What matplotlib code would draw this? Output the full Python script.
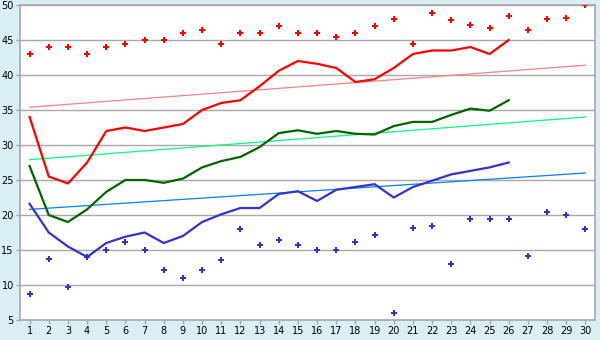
import numpy as np
import matplotlib.pyplot as plt

days = list(range(1, 31))

red_pts = [43, 44, 44, 43, 44, 44.5, 45, 45, 46, 46.5, 44.5, 46, 46, 47, 46,
           46, 45.5, 46, 47, 48, 44.5, 48.8, 47.8, 47.2, 46.7, 48.4, 46.5, 48, 48.1, 50]
blue_pts = [8.7, 13.7, 9.7, 14, 15, 16.1, 15, 12.2, 11, 12.2, 13.6, 18, 15.7, 16.5, 15.7,
            15, 15, 16.1, 17.2, 6, 18.1, 18.5, 13, 19.4, 19.4, 19.4, 14.2, 20.5, 20, 18]

line_days = list(range(1, 27))
red_line = [34, 25.5, 24.5, 27.5, 32, 32.5, 32, 32.5, 33, 35, 36, 36.4, 38.4, 40.6, 42,
            41.6, 41, 39, 39.4, 41, 43, 43.5, 43.5, 44, 43, 45]
green_line = [27, 20, 19, 20.8, 23.3, 25, 25, 24.6, 25.2, 26.8, 27.7, 28.3, 29.7, 31.7, 32.1,
              31.6, 32, 31.6, 31.5, 32.7, 33.3, 33.3, 34.3, 35.2, 34.9, 36.4]
blue_line = [21.6, 17.5, 15.5, 14, 16, 16.9, 17.5, 16, 17, 19, 20.1, 21, 21, 23, 23.4,
             22, 23.6, 24, 24.4, 22.5, 24, 24.9, 25.8, 26.3, 26.8, 27.5]

trend_days = [1, 30]
red_trend = [35.4, 41.4]
green_trend = [27.9, 34]
blue_trend = [20.8, 26]

bg = '#d9eef5'
fig = plt.figure(figsize=(6, 3.4), dpi=100, facecolor=bg)
ax = fig.add_axes([20/600, 20/340, 575/600, 315/340])
ax.set_facecolor('white')

ax.plot(trend_days, red_trend, color='#ff8080', lw=0.9, zorder=2)
ax.plot(trend_days, green_trend, color='#00ff80', lw=0.9, zorder=2)
ax.plot(trend_days, blue_trend, color='#0080ff', lw=0.9, zorder=2)

ax.plot(line_days, red_line, color='#ff0000', lw=1.6, zorder=3)
ax.plot(line_days, green_line, color='#006400', lw=1.6, zorder=3)
ax.plot(line_days, blue_line, color='#3333cc', lw=1.6, zorder=3)

ax.plot(days, red_pts, ls='none', marker='P', ms=5, color='#ff0000', mew=0, zorder=4)
ax.plot(days, blue_pts, ls='none', marker='P', ms=5, color='#3333cc', mew=0, zorder=4)

ax.set_xlim(0.5, 30.5)
ax.set_ylim(5, 50)
ax.set_xticks(days)
ax.set_yticks(range(5, 51, 5))
ax.grid(axis='y', color='#a8a8a8', lw=1)
ax.set_axisbelow(True)
for s in ax.spines.values():
    s.set_color('#a8a8a8')
    s.set_linewidth(1.2)
ax.tick_params(colors='#a8a8a8', labelcolor='black', labelsize=7, length=3, width=1, pad=1.5)

fig.savefig('out.png', dpi=100, facecolor=bg)
